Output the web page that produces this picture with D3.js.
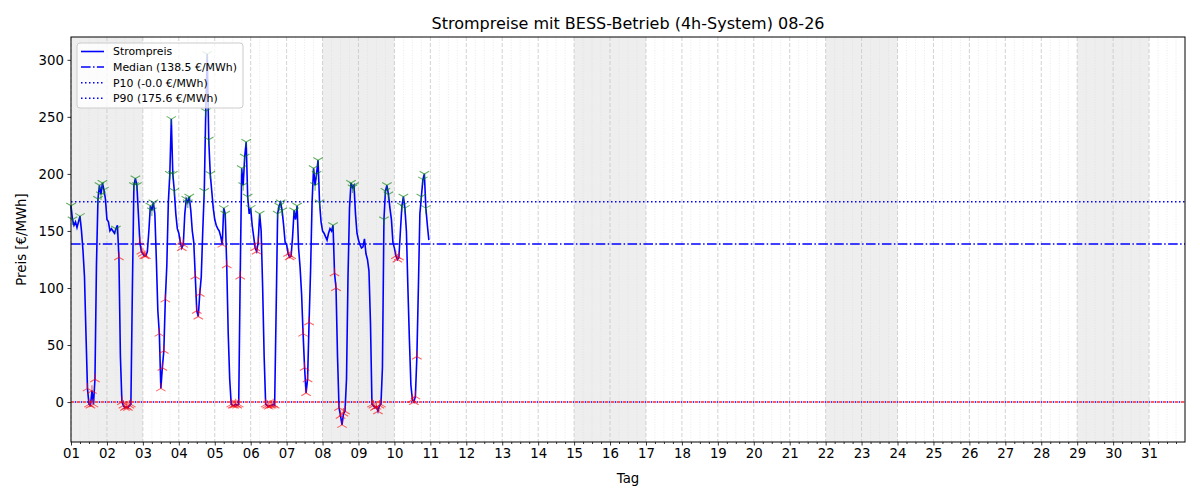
<!DOCTYPE html>
<html lang='en'>
<head>
<meta charset='utf-8'>
<title>Strompreise mit BESS-Betrieb</title>
<script type='text/javascript' src='https://d3js.org/d3.v7.min.js'></script>
<style type='text/css'>
	body { margin: 0; background: #fff; }
	text { font-family: 'DejaVu Sans', sans-serif; }
</style>
</head>
<body>
<script type='text/javascript'>
// hourly prices in EUR/MWh (Aug 2026)
var day01 = [172, 160, 155, 158, 153, 158, 163, 150, 133, 110, 60, 12, -2, -3, 10, -2, 20, 120, 178, 190, 182, 192, 186, 178];
var day02 = [160, 158, 150, 152, 150, 148, 152, 155, 127, 40, 0, -3, -5, -4, -5, -3, -2, 100, 190, 196, 190, 165, 140, 132];
var day03 = [130, 128, 128, 132, 150, 172, 168, 175, 165, 125, 80, 60, 12, 30, 45, 90, 120, 175, 200, 248, 200, 185, 165, 152];
var day04 = [148, 140, 135, 138, 165, 178, 175, 180, 168, 150, 140, 110, 80, 75, 95, 110, 150, 185, 255, 305, 230, 200, 185, 170];
var day05 = [160, 155, 152, 150, 145, 138, 170, 165, 120, 60, 20, -2, -3, -3, -2, -3, -2, 110, 205, 190, 215, 228, 180, 165];
var day06 = [170, 155, 145, 135, 132, 140, 165, 150, 100, 40, -2, -3, -4, -3, -3, -2, -3, 80, 165, 172, 175, 168, 155, 140];
var day07 = [138, 130, 127, 128, 145, 168, 160, 172, 135, 118, 95, 60, 30, 8, 20, 70, 115, 175, 205, 190, 200, 212, 175, 158];
var day08 = [150, 148, 145, 142, 148, 152, 150, 155, 113, 100, 40, -5, -12, -20, -10, -8, 20, 110, 170, 192, 188, 190, 165, 148];
var day09 = [142, 138, 135, 136, 143, 130, 125, 115, 70, -2, -3, -5, -4, -8, -3, -2, 30, 160, 185, 190, 182, 170, 160, 140];
var day10 = [135, 128, 125, 127, 150, 172, 180, 170, 150, 100, 55, 15, 2, 0, 5, 40, 100, 165, 180, 195, 200, 170, 155, 142];

// hour indices (from Aug 1 00:00) where the battery charges / discharges
var chargeHours = [11, 12, 13, 14, 15, 16, 32, 34, 35, 36, 37, 38, 39, 40, 46, 47, 48, 49, 50,
	59, 60, 61, 62, 63, 73, 74, 75, 83, 84, 85, 86, 101, 104, 107, 108, 109, 110, 111, 112, 113,
	123, 124, 125, 130, 131, 132, 133, 134, 135, 136, 145, 146, 147, 155, 156, 157, 158, 159,
	176, 177, 179, 180, 181, 182, 183, 201, 202, 203, 204, 205, 206, 207, 217, 218, 219, 228, 229, 230, 231];
var dischargeHours = [0, 1, 6, 18, 19, 20, 21, 22, 30, 42, 43, 44, 53, 54, 55, 66, 67, 68, 69,
	77, 78, 79, 89, 90, 91, 92, 93, 102, 103, 114, 115, 116, 117, 118, 120, 126, 138, 139, 140, 141,
	149, 151, 162, 163, 164, 165, 166, 175, 187, 188, 189, 209, 210, 211, 212, 221, 222, 223, 234, 235, 236, 237];

var weekendStarts = [1, 8, 15, 22, 29];
var yTicks = [0, 50, 100, 150, 200, 250, 300];
var medianValue = 138.5;
var p10Value = -0.0;
var p90Value = 175.6;
var legendLabels = ['Strompreis', 'Median (138.5 €/MWh)', 'P10 (-0.0 €/MWh)', 'P90 (175.6 €/MWh)'];

var prices = [].concat(day01, day02, day03, day04, day05, day06, day07, day08, day09, day10);
var start = Date.UTC(2026, 7, 1);
var dataset = prices.map(function(v, i) {
	return { t: new Date(start + i * 3600e3), v: v };
});

var w = 1200, h = 500;
var padLeft = 71, padRight = 1185, padTop = 37, padBottom = 442;

var svg = d3.select('body').append('svg')
	.attr('width', w)
	.attr('height', h);

var xScale = d3.scaleUtc()
	.domain([new Date(start), new Date(Date.UTC(2026, 8, 1))])
	.range([padLeft, padRight]);

var yScale = d3.scaleLinear()
	.domain([-35, 320])
	.range([padBottom, padTop]);

var dayTicks = d3.range(1, 32).map(function(d) { return new Date(Date.UTC(2026, 7, d)); });
var minorTicks = d3.utcHour.every(6).range(new Date(start), new Date(Date.UTC(2026, 8, 1)))
	.filter(function(d) { return d.getUTCHours() !== 0; });

// weekend shading
svg.selectAll('rect.weekend')
	.data(weekendStarts)
	.enter()
	.append('rect')
	.attr('class', 'weekend')
	.attr('x', function(d) { return xScale(new Date(Date.UTC(2026, 7, d))); })
	.attr('y', padTop)
	.attr('width', function(d) { return xScale(new Date(Date.UTC(2026, 7, d + 2))) - xScale(new Date(Date.UTC(2026, 7, d))); })
	.attr('height', padBottom - padTop)
	.attr('fill', '#eeeeee');

// grid
svg.selectAll('line.minor')
	.data(minorTicks)
	.enter()
	.append('line')
	.attr('class', 'minor')
	.attr('x1', function(d) { return xScale(d); })
	.attr('x2', function(d) { return xScale(d); })
	.attr('y1', padTop).attr('y2', padBottom)
	.attr('stroke', '#dcdcdc')
	.attr('stroke-width', 0.6)
	.attr('stroke-dasharray', '1,1.6');

svg.selectAll('line.major')
	.data(dayTicks)
	.enter()
	.append('line')
	.attr('class', 'major')
	.attr('x1', function(d) { return xScale(d); })
	.attr('x2', function(d) { return xScale(d); })
	.attr('y1', padTop).attr('y2', padBottom)
	.attr('stroke', '#c8c8c8')
	.attr('stroke-width', 0.8)
	.attr('stroke-dasharray', '4,2');

// price line
var line = d3.line()
	.x(function(d) { return xScale(d.t); })
	.y(function(d) { return yScale(d.v); });

svg.append('path')
	.datum(dataset)
	.attr('d', line)
	.attr('fill', 'none')
	.attr('stroke', '#0000ff')
	.attr('stroke-width', 1.6);

// reference lines
var x0 = xScale.range()[0], x1 = xScale.range()[1];
var refLines = [
	{ v: medianValue, dash: '9.6,2.4,1.5,2.4', width: 1.5, offset: 0 },
	{ v: p10Value, dash: '1.5,4.5', width: 1.5, offset: -3.75 },
	{ v: p90Value, dash: '1.5,2.5', width: 1.5, offset: 0 }
];
svg.selectAll('line.ref')
	.data(refLines)
	.enter()
	.append('line')
	.attr('class', 'ref')
	.attr('x1', x0).attr('x2', x1)
	.attr('y1', function(d) { return yScale(d.v); })
	.attr('y2', function(d) { return yScale(d.v); })
	.attr('stroke', '#0000ff')
	.attr('stroke-width', function(d) { return d.width; })
	.attr('stroke-dasharray', function(d) { return d.dash; })
	.attr('stroke-dashoffset', function(d) { return d.offset; });

// zero line
svg.append('line')
	.attr('x1', x0).attr('x2', x1)
	.attr('y1', yScale(0)).attr('y2', yScale(0))
	.attr('stroke', '#ff0000').attr('stroke-opacity', 0.85)
	.attr('stroke-width', 1.5).attr('stroke-dasharray', '3,3');

// charge / discharge markers
var r = 5.5;
var triUp = 'M0,0L0,' + (-r) + 'M0,0L' + (-r * 0.866) + ',' + (r / 2) + 'M0,0L' + (r * 0.866) + ',' + (r / 2);
var triDown = 'M0,0L0,' + r + 'M0,0L' + (-r * 0.866) + ',' + (-r / 2) + 'M0,0L' + (r * 0.866) + ',' + (-r / 2);

svg.selectAll('path.charge')
	.data(chargeHours)
	.enter()
	.append('path')
	.attr('class', 'charge')
	.attr('d', triUp)
	.attr('transform', function(i) { return 'translate(' + xScale(dataset[i].t) + ',' + yScale(dataset[i].v) + ')'; })
	.attr('fill', 'none')
	.attr('stroke', '#ff0000')
	.attr('stroke-opacity', 0.6)
	.attr('stroke-width', 1.1);

svg.selectAll('path.discharge')
	.data(dischargeHours)
	.enter()
	.append('path')
	.attr('class', 'discharge')
	.attr('d', triDown)
	.attr('transform', function(i) { return 'translate(' + xScale(dataset[i].t) + ',' + yScale(dataset[i].v) + ')'; })
	.attr('fill', 'none')
	.attr('stroke', '#008000')
	.attr('stroke-opacity', 0.6)
	.attr('stroke-width', 1.1);

// axes
var xAxis = d3.axisBottom(xScale)
	.tickValues(dayTicks)
	.tickFormat(d3.utcFormat('%d'))
	.tickSize(3.5)
	.tickPadding(3.5);
var xMinor = d3.axisBottom(xScale)
	.tickValues(minorTicks)
	.tickFormat('')
	.tickSize(2);
var yAxis = d3.axisLeft(yScale)
	.tickValues(yTicks)
	.tickSize(3.5)
	.tickPadding(3.5);

svg.append('g')
	.attr('transform', 'translate(0,' + padBottom + ')')
	.call(xMinor);

svg.append('g')
	.attr('class', 'axis')
	.attr('transform', 'translate(0,' + padBottom + ')')
	.call(xAxis);

svg.append('g')
	.attr('class', 'axis')
	.attr('transform', 'translate(' + padLeft + ',0)')
	.call(yAxis);

svg.selectAll('.axis text')
	.attr('font-family', 'DejaVu Sans, sans-serif')
	.attr('font-size', '13.3px')
	.attr('fill', '#000');
svg.selectAll('.tick line').attr('stroke', '#000').attr('stroke-width', 0.8);
svg.selectAll('.domain').remove();

// frame
svg.append('rect')
	.attr('x', padLeft).attr('y', padTop)
	.attr('width', padRight - padLeft).attr('height', padBottom - padTop)
	.attr('fill', 'none')
	.attr('stroke', '#000')
	.attr('stroke-width', 1);

// title and labels
svg.append('text')
	.attr('x', (padLeft + padRight) / 2).attr('y', 29)
	.attr('text-anchor', 'middle')
	.attr('font-size', '16px')
	.text('Strompreise mit BESS-Betrieb (4h-System) 08-26');

svg.append('text')
	.attr('x', (padLeft + padRight) / 2).attr('y', 483)
	.attr('text-anchor', 'middle')
	.attr('font-size', '13.3px')
	.text('Tag');

svg.append('text')
	.attr('transform', 'translate(26,' + ((padTop + padBottom) / 2) + ') rotate(-90)')
	.attr('text-anchor', 'middle')
	.attr('font-size', '13.3px')
	.text('Preis [€/MWh]');

// legend
var legend = svg.append('g').attr('transform', 'translate(77,43)');
legend.append('rect')
	.attr('width', 166).attr('height', 65)
	.attr('rx', 3)
	.attr('fill', '#fff').attr('fill-opacity', 0.8)
	.attr('stroke', '#cccccc');

var legendDash = [null, '9.6,2.4,1.5,2.4', '1.5,2.5', '1.5,2.5'];
var legendWidth = [1.6, 1.5, 1.5, 1.5];
var items = legend.selectAll('g.item')
	.data(legendLabels)
	.enter()
	.append('g')
	.attr('class', 'item')
	.attr('transform', function(d, i) { return 'translate(0,' + (8.5 + i * 15.6) + ')'; });
items.append('line')
	.attr('x1', 4).attr('x2', 27)
	.attr('stroke', '#0000ff')
	.attr('stroke-width', function(d, i) { return legendWidth[i]; })
	.attr('stroke-dasharray', function(d, i) { return legendDash[i]; });
items.append('text')
	.attr('x', 36).attr('y', 3.8)
	.attr('font-size', '10.9px')
	.text(function(d) { return d; });
</script>
</body>
</html>
